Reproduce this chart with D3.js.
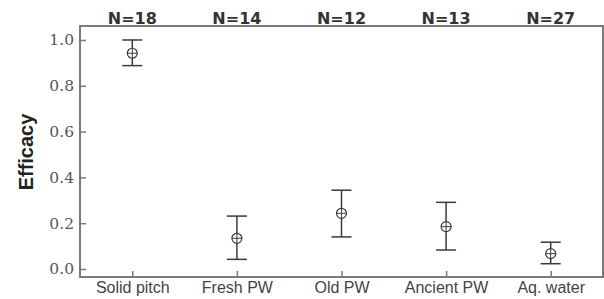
<!DOCTYPE html>
<html>
<head>
<meta charset="utf-8">
<script src="https://cdn.jsdelivr.net/npm/d3@7"></script>
<style>
  body { margin: 0; background: #fff; }
  svg { display: block; }
  .y-axis text { font-family: 'DejaVu Serif', serif; font-size: 15.5px; }
  .x-axis text { font-family: 'Liberation Sans', Arial, sans-serif; font-size: 16px; }
</style>
</head>
<body>
<svg id="chart" width="604" height="299"></svg>
<script>
// data
const groups = ["Solid pitch", "Fresh PW", "Old PW", "Ancient PW", "Aq. water"];
const counts = [18, 14, 12, 13, 27];
const means = [0.942, 0.134, 0.243, 0.185, 0.067];
const upper = [1.0, 0.231, 0.344, 0.291, 0.117];
const lower = [0.888, 0.042, 0.140, 0.083, 0.023];
const yTicks = [0.0, 0.2, 0.4, 0.6, 0.8, 1.0];

const svg = d3.select("#chart");
const plotLeft = 80, plotRight = 603, plotTop = 26, plotBottom = 277;

const x = d3.scalePoint().domain(groups).range([plotLeft, plotRight]).padding(0.5);
const y = d3.scaleLinear().domain([-0.035, 1.061]).range([plotBottom, plotTop]);

const axisColor = "#7a7a7a";

// frame
svg.append("rect")
  .attr("x", plotLeft).attr("y", plotTop)
  .attr("width", plotRight - plotLeft).attr("height", plotBottom - plotTop)
  .attr("fill", "none")
  .attr("stroke", axisColor)
  .attr("stroke-width", 2);

// y axis, ticks pointing inward
const yAxis = svg.append("g")
  .attr("class", "y-axis")
  .attr("transform", `translate(${plotLeft},0)`)
  .call(d3.axisLeft(y).tickValues(yTicks).tickFormat(d3.format(".1f"))
    .tickSizeInner(-6).tickSizeOuter(0).tickPadding(6));
yAxis.select(".domain").remove();
yAxis.selectAll("line").attr("stroke", axisColor).attr("stroke-width", 1.5);
yAxis.selectAll("text").attr("fill", "#555");

// x axis
const xAxis = svg.append("g")
  .attr("class", "x-axis")
  .attr("transform", `translate(0,${plotBottom})`)
  .call(d3.axisBottom(x).tickSizeInner(-6).tickSizeOuter(0).tickPadding(5));
xAxis.select(".domain").remove();
xAxis.selectAll("line").attr("stroke", axisColor).attr("stroke-width", 1.5);
xAxis.selectAll("text").attr("fill", "#444");

// N labels above the frame
svg.append("g").selectAll("text")
  .data(groups)
  .enter().append("text")
  .attr("x", d => x(d))
  .attr("y", 23.5)
  .attr("text-anchor", "middle")
  .attr("fill", "#333")
  .style("font-family", "'DejaVu Sans', sans-serif")
  .style("font-weight", "bold")
  .style("font-size", "16px")
  .text((d, i) => `N=${counts[i]}`);

// y label
svg.append("text")
  .attr("transform", `translate(33,152) rotate(-90)`)
  .attr("text-anchor", "middle")
  .attr("fill", "#222")
  .style("font-family", "'Liberation Sans', Arial, sans-serif")
  .style("font-weight", "bold")
  .style("font-size", "20px")
  .text("Efficacy");

// error bars
const markColor = "#3a3a3a";
const cap = 10;
const bars = svg.append("g").selectAll("g")
  .data(groups)
  .enter().append("g")
  .attr("transform", d => `translate(${x(d)},0)`);

bars.append("line")
  .attr("y1", (d, i) => y(upper[i]))
  .attr("y2", (d, i) => y(lower[i]))
  .attr("stroke", markColor).attr("stroke-width", 1.5);

bars.append("line")
  .attr("x1", -cap).attr("x2", cap)
  .attr("y1", (d, i) => y(upper[i])).attr("y2", (d, i) => y(upper[i]))
  .attr("stroke", markColor).attr("stroke-width", 1.5);

bars.append("line")
  .attr("x1", -cap).attr("x2", cap)
  .attr("y1", (d, i) => y(lower[i])).attr("y2", (d, i) => y(lower[i]))
  .attr("stroke", markColor).attr("stroke-width", 1.5);

// circle-plus markers
bars.append("circle")
  .attr("cy", (d, i) => y(means[i]))
  .attr("r", 5)
  .attr("fill", "#fff")
  .attr("stroke", markColor).attr("stroke-width", 1.2);

bars.append("line")
  .attr("x1", -5).attr("x2", 5)
  .attr("y1", (d, i) => y(means[i])).attr("y2", (d, i) => y(means[i]))
  .attr("stroke", markColor).attr("stroke-width", 1);

bars.append("line")
  .attr("y1", (d, i) => y(means[i]) - 5).attr("y2", (d, i) => y(means[i]) + 5)
  .attr("stroke", markColor).attr("stroke-width", 1);
</script>
</body>
</html>
